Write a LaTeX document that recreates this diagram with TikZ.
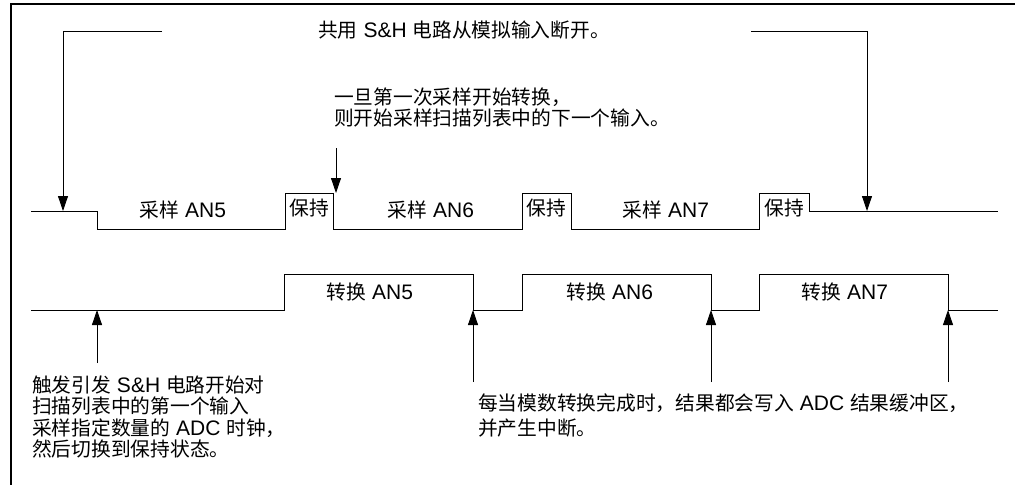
\documentclass[tikz,border=0pt]{standalone}
\usepackage{fontspec}
\setmainfont{Liberation Sans}
\newfontfamily\cjk[Scale=0.94]{Noto Sans CJK SC}
\usetikzlibrary{arrows.meta}

\tikzset{
    wave/.style={line width=0.8pt},
    callout/.style={line width=0.8pt,-{Triangle[length=15pt,width=10pt]}},
    lbl/.style={inner sep=0pt,font=\fontsize{21}{21.3}\selectfont},
}

\begin{document}
\begin{tikzpicture}[x=1pt,y=-1pt]

            \useasboundingbox (0,0) rectangle (1015,485);
            \draw[line width=2pt] (1015,3.5) -- (10.5,3.5) -- (10.5,485);

            % sample / hold line
            \draw[wave] (31,211) -- (97,211) -- (97,229) -- (285,229) -- (285,193) -- (333,193)
                -- (333,229) -- (522,229) -- (522,193) -- (571,193) -- (571,229) -- (759,229)
                -- (759,193) -- (809,193) -- (809,211) -- (998,211);
            % conversion line
            \draw[wave] (31,310) -- (284,310) -- (284,274) -- (473,274) -- (473,310) -- (522,310)
                -- (522,274) -- (711,274) -- (711,310) -- (759,310) -- (759,274) -- (948,274)
                -- (948,310) -- (998,310);

            \node[lbl] (s5) at (183,210) {{\cjk 采样} AN5};
            \node[lbl] (h5) at (309,208) {\cjk 保持};
            \node[lbl] (s6) at (431,210) {{\cjk 采样} AN6};
            \node[lbl] (h6) at (546,208) {\cjk 保持};
            \node[lbl] (s7) at (666,210) {{\cjk 采样} AN7};
            \node[lbl] (h7) at (784,208) {\cjk 保持};
            \node[lbl] (c5) at (370,292) {{\cjk 转换} AN5};
            \node[lbl] (c6) at (610,292) {{\cjk 转换} AN6};
            \node[lbl] (c7) at (845,292) {{\cjk 转换} AN7};

            \node[lbl,anchor=west] (open) at (318,30) {{\cjk 共用} S\&H {\cjk 电路从模拟输入断开。}};
            \node[lbl,anchor=west,align=left] (next) at (334,107.5)
                {{\cjk 一旦第一次采样开始转换，}\\{\cjk 则开始采样扫描列表中的下一个输入。}};
            \node[lbl,anchor=west,align=left] (trig) at (32,417)
                {{\cjk 触发引发} S\&H {\cjk 电路开始对}\\{\cjk 扫描列表中的第一个输入}\\
                 {\cjk 采样指定数量的} ADC {\cjk 时钟，}\\{\cjk 然后切换到保持状态。}};
            \node[lbl,anchor=west,align=left,font=\fontsize{21}{25}\selectfont] (done) at (478,415.5)
                {{\cjk 每当模数转换完成时，结果都会写入} ADC {\cjk 结果缓冲区，}\\{\cjk 并产生中断。}};

            \coordinate (L1) at (162,31);
            \coordinate (L2) at (63,31);
            \coordinate (R1) at (751,31);
            \coordinate (R2) at (867,31);
            \coordinate (M1) at (336,148);
            \coordinate (T5) at (97,363);
            \coordinate (E5) at (473,382);
            \coordinate (E6) at (711,382);
            \coordinate (E7) at (948,382);

            \draw[callout] (L1) -- (L2) -- (63,211);
            \draw[callout] (R1) -- (R2) -- (867,211);
            \draw[callout] (M1) -- (336,193);
            \draw[callout] (T5) -- (97,310);
            \draw[callout] (E5) -- (473,310);
            \draw[callout] (E6) -- (711,310);
            \draw[callout] (E7) -- (948,310);
        \end{tikzpicture}
\end{document}
